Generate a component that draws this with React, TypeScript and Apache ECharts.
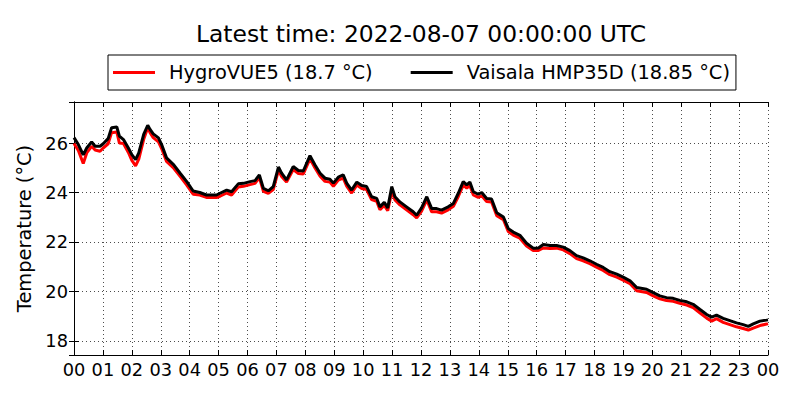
import React, { useEffect, useRef } from "react";
import * as echarts from "echarts";

const TITLE = "Latest time: 2022-08-07 00:00:00 UTC";
const NAME_HYGRO = "HygroVUE5 (18.7 °C)";
const NAME_VAISALA = "Vaisala HMP35D (18.85 °C)";
const Y_NAME = "Temperature (°C)";

// hours since 2022-08-06 00:00 UTC
const hours = [
  0.0, 0.15, 0.32, 0.44, 0.61, 0.73, 0.9, 1.01, 1.18, 1.3, 1.48, 1.57, 1.71, 1.88, 2.0, 2.13, 2.24, 2.41, 2.55, 2.63,
  2.74, 2.92, 3.03, 3.2, 3.45, 3.67, 3.9, 4.12, 4.35, 4.58, 4.93, 5.05, 5.28, 5.45, 5.68, 5.86, 6.09, 6.26, 6.41, 6.55,
  6.72, 6.89, 7.07, 7.18, 7.35, 7.58, 7.76, 7.93, 8.16, 8.33, 8.51, 8.68, 8.85, 8.97, 9.14, 9.31, 9.43, 9.6, 9.78, 9.95,
  10.12, 10.29, 10.47, 10.58, 10.73, 10.85, 10.99, 11.1, 11.27, 11.5, 11.73, 11.85, 12.02, 12.2, 12.37, 12.54, 12.71,
  12.94, 13.12, 13.29, 13.46, 13.58, 13.69, 13.81, 13.98, 14.1, 14.27, 14.44, 14.62, 14.85, 15.02, 15.19, 15.42, 15.65,
  15.88, 16.06, 16.23, 16.46, 16.69, 16.92, 17.15, 17.38, 17.61, 17.84, 18.07, 18.3, 18.53, 18.77, 18.99, 19.23, 19.46,
  19.8, 20.03, 20.26, 20.49, 20.72, 20.95, 21.19, 21.41, 21.65, 21.88, 22.05, 22.22, 22.45, 22.68, 22.91, 23.14, 23.32,
  23.49, 23.72, 23.95, 24.0,
];

const vaisala = [
  26.22, 25.94, 25.52, 25.8, 26.05, 25.87, 25.87, 25.97, 26.18, 26.62, 26.65, 26.28, 26.14, 25.8, 25.53, 25.33, 25.6,
  26.35, 26.72, 26.55, 26.37, 26.21, 25.94, 25.4, 25.12, 24.78, 24.44, 24.06, 24.0, 23.9, 23.9, 23.97, 24.1, 24.03,
  24.35, 24.37, 24.44, 24.48, 24.71, 24.17, 24.07, 24.24, 25.03, 24.78, 24.51, 25.05, 24.89, 24.87, 25.49, 25.12, 24.78,
  24.58, 24.54, 24.38, 24.62, 24.71, 24.38, 24.1, 24.42, 24.28, 24.24, 23.83, 23.76, 23.42, 23.6, 23.38, 24.24, 23.83,
  23.62, 23.42, 23.22, 23.08, 23.38, 23.83, 23.35, 23.35, 23.29, 23.42, 23.56, 23.97, 24.44, 24.31, 24.42, 24.03, 23.93,
  24.0, 23.76, 23.74, 23.18, 23.01, 22.54, 22.4, 22.27, 21.95, 21.75, 21.76, 21.9, 21.86, 21.86, 21.79, 21.65, 21.45,
  21.36, 21.24, 21.1, 20.97, 20.8, 20.7, 20.58, 20.43, 20.16, 20.09, 19.95, 19.82, 19.75, 19.72, 19.64, 19.58, 19.48,
  19.27, 19.07, 18.96, 19.04, 18.91, 18.82, 18.73, 18.66, 18.59, 18.69, 18.8, 18.84, 18.85,
];

const hygroVUE5 = [
  25.98, 25.7, 25.17, 25.6, 25.87, 25.72, 25.67, 25.8, 25.97, 26.42, 26.45, 26.0, 25.98, 25.62, 25.3, 25.08, 25.35,
  26.15, 26.62, 26.42, 26.22, 26.05, 25.78, 25.26, 24.98, 24.65, 24.3, 23.93, 23.9, 23.8, 23.8, 23.85, 23.98, 23.9,
  24.22, 24.25, 24.32, 24.37, 24.6, 24.05, 23.97, 24.12, 24.9, 24.65, 24.42, 24.93, 24.77, 24.75, 25.36, 25.0, 24.66,
  24.45, 24.42, 24.25, 24.5, 24.58, 24.26, 23.98, 24.3, 24.16, 24.12, 23.71, 23.64, 23.3, 23.48, 23.26, 24.05, 23.7,
  23.5, 23.3, 23.1, 22.97, 23.25, 23.7, 23.22, 23.22, 23.17, 23.3, 23.44, 23.84, 24.3, 24.18, 24.28, 23.9, 23.8, 23.87,
  23.64, 23.62, 23.06, 22.9, 22.42, 22.28, 22.15, 21.84, 21.66, 21.66, 21.76, 21.74, 21.75, 21.68, 21.53, 21.33, 21.24,
  21.12, 20.98, 20.85, 20.68, 20.58, 20.46, 20.31, 20.03, 19.96, 19.82, 19.7, 19.63, 19.6, 19.52, 19.45, 19.35, 19.13,
  18.92, 18.8, 18.9, 18.75, 18.66, 18.57, 18.5, 18.44, 18.52, 18.62, 18.68, 18.7,
];

const X_MIN = 0;
const X_MAX = 24;
const Y_MIN = 17.43;
const Y_MAX = 27.66;

const FONT = "DejaVu Sans";

export default function App() {
  const ref = useRef<HTMLDivElement>(null);

  useEffect(() => {
    if (!ref.current) return;
    const chart = echarts.init(ref.current, undefined, { renderer: "svg" });

    const dotted = { color: "#000", width: 0.7, type: [1, 3] as number[] };
    const hourFmt = (v: number) => String(Math.round(v) % 24).padStart(2, "0");

    chart.setOption({
      animation: false,
      backgroundColor: "#fff",
      title: {
        text: TITLE,
        left: 196,
        top: 22,
        padding: 0,
        textStyle: { fontFamily: FONT, fontSize: 23.4, fontWeight: "normal", color: "#000" },
      },
      legend: {
        left: 108,
        top: 55,
        padding: [8, 6, 8, 5],
        borderColor: "#000",
        borderWidth: 1,
        icon: "rect",
        itemWidth: 42,
        itemHeight: 3,
        itemGap: 38,
        textStyle: { fontFamily: FONT, fontSize: 19.4, color: "#000", padding: [0, 0, 0, 9] },
        data: [NAME_HYGRO, NAME_VAISALA],
      },
      grid: { left: 74, right: 32, top: 102, bottom: 45, containLabel: false },
      xAxis: [
        {
          type: "value",
          min: X_MIN,
          max: X_MAX,
          interval: 1,
          position: "bottom",
          axisLine: { show: true, lineStyle: { color: "#000", width: 1 } },
          axisTick: { show: true, inside: true, length: 5, lineStyle: { color: "#000" } },
          axisLabel: { fontFamily: FONT, fontSize: 17.8, color: "#000", margin: 5, formatter: hourFmt },
          splitLine: { show: true, lineStyle: dotted },
        },
        {
          type: "value",
          min: X_MIN,
          max: X_MAX,
          interval: 1,
          position: "top",
          axisLine: { show: true, lineStyle: { color: "#000", width: 1 } },
          axisTick: { show: true, inside: true, length: 5, lineStyle: { color: "#000" } },
          axisLabel: { show: false },
          splitLine: { show: false },
        },
      ],
      yAxis: [
        {
          type: "value",
          min: Y_MIN,
          max: Y_MAX,
          splitNumber: 5,
          position: "left",
          name: Y_NAME,
          nameLocation: "middle",
          nameGap: 31,
          nameTextStyle: { fontFamily: FONT, fontSize: 19.4, color: "#000" },
          axisLine: { show: true, lineStyle: { color: "#000", width: 1 } },
          axisTick: { show: true, inside: true, length: 5, lineStyle: { color: "#000" } },
          axisLabel: {
            fontFamily: FONT,
            fontSize: 17.8,
            color: "#000",
            margin: 6,
            showMinLabel: false,
            showMaxLabel: false,
            formatter: (v: number) => String(Math.round(v)),
          },
          splitLine: { show: true, lineStyle: dotted },
        },
        {
          type: "value",
          min: Y_MIN,
          max: Y_MAX,
          splitNumber: 5,
          position: "right",
          axisLine: { show: true, lineStyle: { color: "#000", width: 1 } },
          axisTick: { show: true, inside: true, length: 5, lineStyle: { color: "#000" } },
          axisLabel: { show: false },
          splitLine: { show: false },
        },
      ],
      series: [
        {
          name: NAME_HYGRO,
          type: "line",
          xAxisIndex: 0,
          yAxisIndex: 0,
          symbol: "none",
          color: "#ff0000",
          lineStyle: { color: "#ff0000", width: 3 },
          data: hours.map((h, i) => [h, hygroVUE5[i]]),
        },
        {
          name: NAME_VAISALA,
          type: "line",
          xAxisIndex: 0,
          yAxisIndex: 0,
          symbol: "none",
          color: "#000000",
          lineStyle: { color: "#000000", width: 3 },
          data: hours.map((h, i) => [h, vaisala[i]]),
        },
      ],
    });

    return () => chart.dispose();
  }, []);

  return (
    <div
      ref={ref}
      style={{ position: "fixed", left: 0, top: 0, width: 800, height: 400, background: "#fff" }}
    />
  );
}
